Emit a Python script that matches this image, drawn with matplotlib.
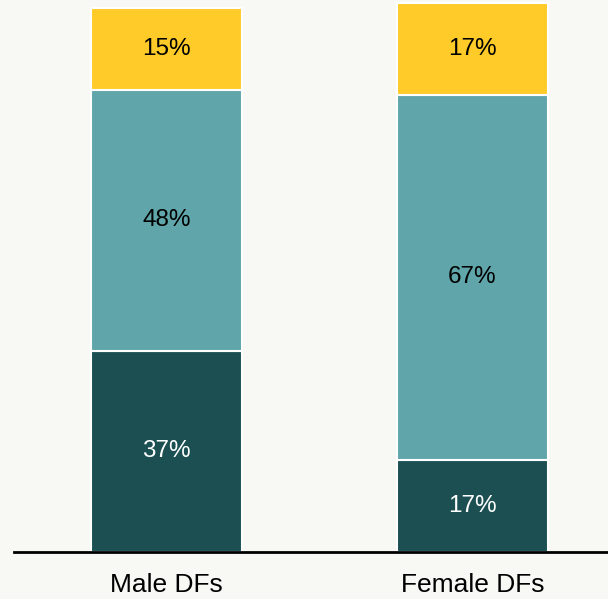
import matplotlib
matplotlib.use("Agg")
import matplotlib.pyplot as plt
import numpy as np

plt.rcParams['font.family'] = ['Liberation Sans', 'DejaVu Sans']

categories = ["Male DFs", "Female DFs"]
bottom_vals = [37, 17]
middle_vals = [48, 67]
top_vals = [15, 17]

c_dark = "#1B4F52"
c_mid = "#5FA5AA"
c_top = "#FFCB29"
bg = "#F8F8F4"

fig = plt.figure(figsize=(6.08, 5.99), dpi=100, facecolor=bg)
ax = fig.add_axes([14/608, 47/599, 1 - 14/608, 552/599])
ax.set_facecolor(bg)

x = np.arange(len(categories))
w = 0.493
ax.bar(x, bottom_vals, w, color=c_dark, edgecolor="white", linewidth=1.5)
ax.bar(x, middle_vals, w, bottom=bottom_vals, color=c_mid, edgecolor="white", linewidth=1.5)
bot2 = np.array(bottom_vals) + np.array(middle_vals)
ax.bar(x, top_vals, w, bottom=bot2, color=c_top, edgecolor="white", linewidth=1.5)

fs = 17.5
for i in range(len(categories)):
    ax.text(x[i], bottom_vals[i] / 2, f"{bottom_vals[i]}%", ha="center", va="center", color="white", fontsize=fs)
    ax.text(x[i], bottom_vals[i] + middle_vals[i] / 2, f"{middle_vals[i]}%", ha="center", va="center", color="black", fontsize=fs)
    ax.text(x[i], bot2[i] + top_vals[i] / 2, f"{top_vals[i]}%", ha="center", va="center", color="black", fontsize=fs)

ax.set_xlim(-0.498, 1.443)
ax.set_ylim(0, 101.5)
ax.set_xticks(x)
ax.set_xticklabels(categories, fontsize=19)
ax.tick_params(axis="x", length=0, pad=15)
ax.set_yticks([])
for s in ["top", "right", "left"]:
    ax.spines[s].set_visible(False)
ax.spines["bottom"].set_linewidth(2)
ax.spines["bottom"].set_color("black")

fig.savefig("out.png", dpi=100, facecolor=bg)
